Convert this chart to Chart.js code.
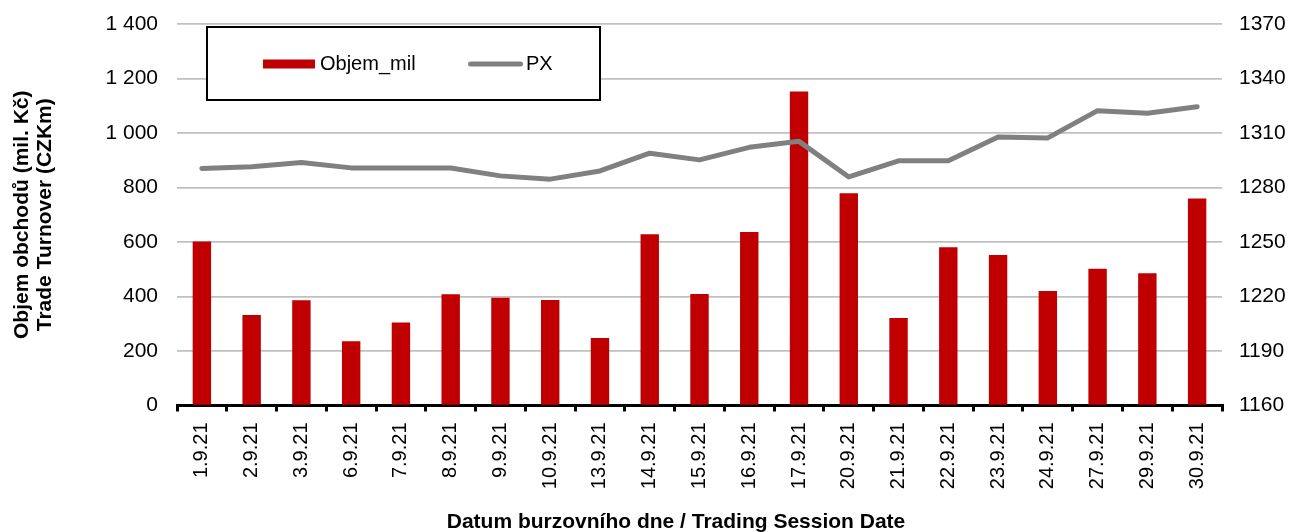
<!DOCTYPE html>
<html><head><meta charset="utf-8">
<script src="https://cdn.jsdelivr.net/npm/chart.js@4.4.0/dist/chart.umd.min.js"></script>
<style>html,body{margin:0;padding:0;background:#fff}#wrap{width:1289px;height:532px;position:relative}</style>
</head><body><div id="wrap"><canvas id="c" width="1289" height="532"></canvas></div>
<script>
const categories = ['1.9.21','2.9.21','3.9.21','6.9.21','7.9.21','8.9.21','9.9.21','10.9.21','13.9.21','14.9.21','15.9.21','16.9.21','17.9.21','20.9.21','21.9.21','22.9.21','23.9.21','24.9.21','27.9.21','29.9.21','30.9.21'];
const volume = [602,332,386,236,305,408,395,387,248,628,409,637,1152,779,321,581,552,420,502,485,760];
const px = [1290.5,1291.4,1293.8,1290.8,1290.8,1290.7,1286.4,1284.6,1289.1,1298.9,1295.2,1302.1,1305.4,1285.8,1294.7,1294.7,1307.8,1307.3,1322.3,1320.9,1324.5];
const leftTicks = [0,200,400,600,800,1000,1200,1400];
const rightTicks = [1160,1190,1220,1250,1280,1310,1340,1370];
const seriesNames = ['Objem_mil','PX'];
const yTitle = ['Objem obchodů (mil. Kč)','Trade Turnover (CZKm)'];
const xTitle = 'Datum burzovního dne / Trading Session Date';

const FONT = "'Liberation Sans', Arial, sans-serif";
const fmt = v => String(v).replace(/\B(?=(\d{3})+(?!\d))/g, ' ');

const overlay = {
  id: 'overlay',
  afterDraw(chart) {
    const ctx = chart.ctx;
    ctx.save();
    // legend box
    const bx = 207, by = 27, bw = 393, bh = 73;
    ctx.fillStyle = '#fff';
    ctx.fillRect(bx, by, bw, bh);
    ctx.strokeStyle = '#000';
    ctx.lineWidth = 2;
    ctx.strokeRect(bx, by, bw, bh);
    const ds = chart.data.datasets;
    const bar = ds.find(d => d.type === 'bar');
    const line = ds.find(d => d.type === 'line');
    ctx.fillStyle = bar.backgroundColor;
    ctx.fillRect(263, 59.5, 52, 9);
    ctx.font = '20px ' + FONT;
    ctx.textBaseline = 'middle';
    ctx.textAlign = 'left';
    ctx.fillStyle = '#000';
    ctx.fillText(bar.label, 320, 64.5);
    ctx.strokeStyle = line.borderColor;
    ctx.lineWidth = 5;
    ctx.lineCap = 'round';
    ctx.beginPath();
    ctx.moveTo(470.5, 64);
    ctx.lineTo(520.5, 64);
    ctx.stroke();
    ctx.fillText(line.label, 526, 64.5);
    // x axis title
    ctx.font = 'bold 21px ' + FONT;
    ctx.textAlign = 'center';
    ctx.textBaseline = 'alphabetic';
    ctx.fillText(xTitle, 676, 528);
    ctx.restore();
  }
};

new Chart(document.getElementById('c'), {
  data: {
    labels: categories,
    datasets: [
      { type: 'line', label: seriesNames[1], data: px, yAxisID: 'y1', order: 0,
        borderColor: '#808080', borderWidth: 5, pointRadius: 0, tension: 0,
        borderCapStyle: 'round', borderJoinStyle: 'round', fill: false },
      { type: 'bar', label: seriesNames[0], data: volume, yAxisID: 'y', order: 1,
        backgroundColor: '#c00000', borderWidth: 0,
        categoryPercentage: 1, barPercentage: 0.37 }
    ]
  },
  options: {
    responsive: false,
    animation: false,
    devicePixelRatio: 1,
    layout: { padding: { top: 24, left: 0, right: 0, bottom: 0 } },
    plugins: { legend: { display: false }, tooltip: { enabled: false }, title: { display: false } },
    scales: {
      x: {
        position: 'bottom',
        offset: true,
        grid: { display: true, drawOnChartArea: false, drawTicks: true, tickLength: 6, lineWidth: 3, color: '#000', offset: true },
        border: { display: true, color: '#000', width: 3 },
        ticks: { maxRotation: 90, minRotation: 90, autoSkip: false, padding: 11, color: '#000', font: { family: FONT, size: 20 } },
        afterFit(s) { s.height = 126.5; }
      },
      y: {
        position: 'left',
        min: leftTicks[0], max: leftTicks[leftTicks.length - 1],
        grid: { color: '#c0c0c0', lineWidth: 1.75, drawTicks: false },
        border: { display: false },
        ticks: { stepSize: leftTicks[1] - leftTicks[0], padding: 19, color: '#000', font: { family: FONT, size: 21, lineHeight: 0.4 }, callback: v => fmt(v) },
        title: { display: true, text: yTitle, color: '#000', padding: { top: 11, bottom: 0 }, font: { family: FONT, size: 21, weight: 'bold', lineHeight: 1.1 } },
        afterFit(s) { s.width = 177; }
      },
      y1: {
        position: 'right',
        min: rightTicks[0], max: rightTicks[rightTicks.length - 1],
        grid: { display: false, drawTicks: false },
        border: { display: false },
        ticks: { stepSize: rightTicks[1] - rightTicks[0], padding: 17, color: '#000', font: { family: FONT, size: 21, lineHeight: 0.4 }, callback: v => String(v) },
        afterFit(s) { s.width = 67; }
      }
    }
  },
  plugins: [overlay]
});
</script></body></html>
